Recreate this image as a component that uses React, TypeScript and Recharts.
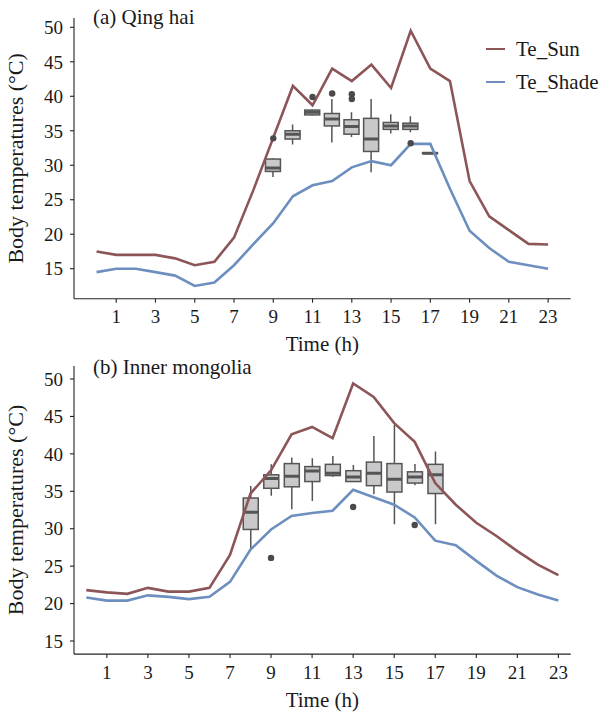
import React from "react";
import { ComposedChart, Line, Bar, Scatter, XAxis, YAxis } from "recharts";

const SERIF = "'Liberation Serif', 'DejaVu Serif', serif";
const TEXT = "#1a1a1a";
const AXIS = "#222";
const SUN = "#8c5558";
const SHADE = "#6d8fbf";
const BOX_FILL = "#c9c9cb";
const BOX_LINE = "#555";

const hours = [0, 1, 2, 3, 4, 5, 6, 7, 8, 9, 10, 11, 12, 13, 14, 15, 16, 17, 18, 19, 20, 21, 22, 23];
const xTicks = [1, 3, 5, 7, 9, 11, 13, 15, 17, 19, 21, 23];
const yTicks = [15, 20, 25, 30, 35, 40, 45, 50];

// (a) Qing hai
const sunA = [17.5, 17.0, 17.0, 17.0, 16.5, 15.5, 16.0, 19.5, 26.5, 34.0, 41.5, 38.7, 44.0, 42.2, 44.6, 41.2, 49.5, 44.0, 42.2, 27.7, 22.6, 20.6, 18.6, 18.5];
const shadeA = [14.5, 15.0, 15.0, 14.5, 14.0, 12.5, 13.0, 15.5, 18.6, 21.6, 25.5, 27.1, 27.7, 29.7, 30.6, 30.0, 33.1, 33.1, 26.6, 20.5, 18.0, 16.0, 15.5, 15.0];
const boxHoursA = [9, 10, 11, 12, 13, 14, 15, 16, 17];
const lowA = [28.3, 33.0, 37.2, 33.3, 34.1, 29.0, 34.6, 34.8, 31.7];
const q1A = [29.1, 33.8, 37.3, 35.7, 34.5, 32.0, 35.2, 35.2, 31.7];
const medA = [29.6, 34.5, 37.7, 36.7, 35.6, 33.8, 35.7, 35.7, 31.75];
const q3A = [30.9, 35.0, 38.0, 37.5, 36.6, 36.8, 36.2, 36.1, 31.8];
const highA = [31.0, 35.9, 38.1, 39.6, 37.7, 39.6, 37.4, 37.1, 31.8];
const outHoursA = [9, 11, 12, 13, 13, 16];
const outValsA = [33.9, 39.9, 40.4, 40.3, 39.6, 33.2];

// (b) Inner mongolia
const sunB = [21.8, 21.5, 21.3, 22.1, 21.6, 21.6, 22.1, 26.5, 34.7, 37.8, 42.6, 43.6, 42.1, 49.4, 47.6, 44.1, 41.6, 36.1, 33.2, 30.8, 29.0, 27.0, 25.2, 23.8];
const shadeB = [20.8, 20.4, 20.4, 21.1, 20.9, 20.6, 20.9, 22.9, 27.2, 29.9, 31.7, 32.1, 32.4, 35.2, 34.2, 33.2, 31.5, 28.4, 27.8, 25.7, 23.7, 22.2, 21.2, 20.4];
const boxHoursB = [8, 9, 10, 11, 12, 13, 14, 15, 16, 17];
const lowB = [27.2, 34.4, 32.6, 33.7, 36.95, 36.3, 34.6, 30.6, 35.8, 30.6];
const q1B = [29.9, 35.4, 35.6, 36.3, 37.1, 36.3, 35.75, 34.9, 36.1, 34.7];
const medB = [32.2, 36.7, 37.0, 37.7, 37.4, 36.9, 37.4, 36.6, 36.9, 37.2];
const q3B = [34.1, 37.2, 38.7, 38.3, 38.6, 37.75, 38.9, 38.7, 37.6, 38.6];
const highB = [35.7, 38.6, 39.5, 39.4, 39.7, 38.5, 42.4, 43.85, 38.65, 40.3];
const outHoursB = [9, 13, 16];
const outValsB = [26.1, 32.9, 30.5];

function buildRows(sun: number[], shade: number[], bh: number[], lo: number[], q1: number[], med: number[], q3: number[], hi: number[]) {
  return hours.map((h, i) => {
    const j = bh.indexOf(h);
    return {
      hour: h,
      sun: sun[i],
      shade: shade[i],
      box: j >= 0 ? { lo: lo[j], q1: q1[j], med: med[j], q3: q3[j], hi: hi[j] } : null,
    };
  });
}

const rowsA = buildRows(sunA, shadeA, boxHoursA, lowA, q1A, medA, q3A, highA);
const rowsB = buildRows(sunB, shadeB, boxHoursB, lowB, q1B, medB, q3B, highB);
const outA = outHoursA.map((h, i) => ({ hour: h, v: outValsA[i] }));
const outB = outHoursB.map((h, i) => ({ hour: h, v: outValsB[i] }));

// bar spans whisker range; inner parts placed linearly inside it
function BoxShape(props: any) {
  const { x, y, width, height, payload } = props;
  const b = payload && payload.box;
  if (!b || height == null || isNaN(y)) return <g />;
  const top = Math.min(y, y + height);
  const h = Math.abs(height);
  const py = (v: number) => top + (h * (b.hi - v)) / (b.hi - b.lo);
  const cx = x + width / 2;
  return (
    <g>
      <line x1={cx} x2={cx} y1={py(b.hi)} y2={py(b.q3)} stroke={BOX_LINE} strokeWidth={1.5} />
      <line x1={cx} x2={cx} y1={py(b.q1)} y2={py(b.lo)} stroke={BOX_LINE} strokeWidth={1.5} />
      <rect x={x} y={py(b.q3)} width={width} height={Math.max(py(b.q1) - py(b.q3), 0)} fill={BOX_FILL} stroke={BOX_LINE} strokeWidth={1.5} />
      <line x1={x} x2={x + width} y1={py(b.med)} y2={py(b.med)} stroke={BOX_LINE} strokeWidth={3} />
    </g>
  );
}

const Dot = (p: any) => <circle cx={p.cx} cy={p.cy} r={3.2} fill="#4a4a4a" />;

interface PanelProps {
  rows: any[];
  outliers: any[];
  xDomain: [number, number];
  yDomain: [number, number];
  height: number;
  margin: { top: number; right: number; bottom: number; left: number };
}

function Panel({ rows, outliers, xDomain, yDomain, height, margin }: PanelProps) {
  return (
    <ComposedChart width={600} height={height} data={rows} margin={margin}>
      <XAxis
        type="number"
        dataKey="hour"
        domain={xDomain}
        ticks={xTicks}
        allowDataOverflow
        height={30}
        stroke={AXIS}
        strokeWidth={1.1}
        tickSize={4}
        tickMargin={7}
        tick={{ fill: TEXT, fontSize: 19, fontFamily: SERIF }}
        label={{ value: "Time (h)", position: "bottom", offset: 7.6, style: { fill: TEXT, fontSize: 21, fontFamily: SERIF } }}
      />
      <YAxis
        type="number"
        domain={yDomain}
        ticks={yTicks}
        allowDataOverflow
        width={66}
        stroke={AXIS}
        strokeWidth={1.1}
        tickSize={4}
        tickMargin={7}
        tick={{ fill: TEXT, fontSize: 19, fontFamily: SERIF }}
        label={{
          value: "Body temperatures (°C)",
          angle: -90,
          position: "insideLeft",
          offset: 7,
          style: { textAnchor: "middle", fill: TEXT, fontSize: 22, fontFamily: SERIF },
        }}
      />
      <Bar
        dataKey={(d: any) => (d.box ? [d.box.lo, d.box.hi] : undefined)}
        barSize={15}
        shape={BoxShape}
        isAnimationActive={false}
      />
      <Line type="linear" dataKey="sun" stroke={SUN} strokeWidth={2.6} dot={false} isAnimationActive={false} />
      <Line type="linear" dataKey="shade" stroke={SHADE} strokeWidth={2.6} dot={false} isAnimationActive={false} />
      <Scatter data={outliers} dataKey="v" shape={Dot} isAnimationActive={false} />
    </ComposedChart>
  );
}

const txt: React.CSSProperties = { position: "absolute", fontFamily: SERIF, fontSize: 21, color: TEXT, lineHeight: "24px", whiteSpace: "nowrap" };

export default function App() {
  return (
    <div style={{ position: "absolute", left: 0, top: 0, width: 600, height: 713, background: "#fff" }}>
      <div style={{ position: "absolute", left: 0, top: 0 }}>
        <Panel rows={rowsA} outliers={outA} xDomain={[-1.15, 24.15]} yDomain={[10.65, 51.35]} height={356} margin={{ top: 18, right: 29.3, bottom: 27.3, left: 8 }} />
      </div>
      <div style={{ position: "absolute", left: 0, top: 356 }}>
        <Panel rows={rowsB} outliers={outB} xDomain={[-0.6, 23.6]} yDomain={[13.25, 51.75]} height={357} margin={{ top: 9.9, right: 29.3, bottom: 28.9, left: 8 }} />
      </div>
      <div style={{ ...txt, left: 93, top: 4.7 }}>(a) Qing hai</div>
      <div style={{ ...txt, left: 93, top: 355 }}>(b) Inner mongolia</div>
      <div style={{ position: "absolute", left: 486, top: 47.5, width: 19, height: 2.6, background: SUN }} />
      <div style={{ ...txt, left: 516, top: 36.5 }}>Te_Sun</div>
      <div style={{ position: "absolute", left: 486, top: 80.5, width: 19, height: 2.6, background: SHADE }} />
      <div style={{ ...txt, left: 516, top: 70 }}>Te_Shade</div>
    </div>
  );
}
